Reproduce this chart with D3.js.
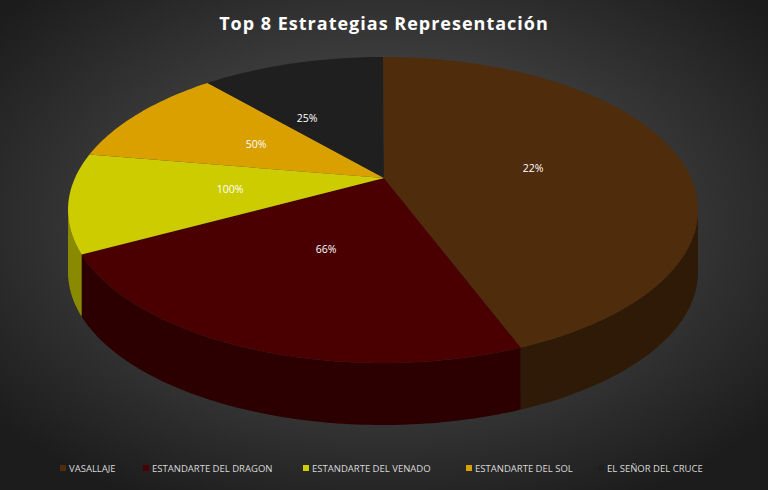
<!DOCTYPE html>
<html><head><meta charset="utf-8">
<script src="https://cdn.jsdelivr.net/npm/d3@7"></script>
<style>body{margin:0;background:#000}</style></head>
<body><svg id="c" width="768" height="490"></svg>
<script>
const categories=["VASALLAJE","ESTANDARTE DEL DRAGON","ESTANDARTE DEL VENADO","ESTANDARTE DEL SOL","EL SEÑOR DEL CRUCE"];
const values=[42.8,27.5,10.6,9.7,9.4];
const labels=["22%","66%","100%","50%","25%"];
const colors=["#4e2c0c","#4a0000","#cccc00","#d9a000","#1f1f1f"];
const sideColors=["#2e1a07","#2c0000","#8a8a00","#936c00","#121212"];

const svg=d3.select("#c");
const defs=svg.append("defs");
const g=defs.append("radialGradient").attr("id","bg").attr("cx","50%").attr("cy","45%").attr("r","65%");
g.append("stop").attr("offset","0%").attr("stop-color","#5c5c5c");
g.append("stop").attr("offset","100%").attr("stop-color","#1c1c1c");
svg.append("rect").attr("width",768).attr("height",490).attr("fill","url(#bg)");

svg.append("text").attr("x",384).attr("y",30).attr("text-anchor","middle")
 .attr("fill","#fff").attr("font-family","Open Sans, sans-serif").attr("font-weight","bold")
 .attr("font-size",18).attr("letter-spacing",1).text("Top 8 Estrategias Representación");

const cx=383,cy=210,rx=315,ry=153,depth=62,ax=384,ay=178;
const pie=d3.pie().sort(null).value(d=>d).startAngle(0).endAngle(2*Math.PI)(values);
const pt=(t,dy=0)=>[cx+rx*Math.sin(t),cy-ry*Math.cos(t)+dy];
function arcPts(a,b,dy=0){const n=Math.max(2,Math.ceil((b-a)/0.02));return d3.range(n+1).map(i=>pt(a+(b-a)*i/n,dy));}
const line=d3.line();
// sides (front half: PI/2..3PI/2)
pie.forEach((s,i)=>{
  const a=Math.max(s.startAngle,Math.PI/2),b=Math.min(s.endAngle,3*Math.PI/2);
  if(b<=a)return;
  const top=arcPts(a,b),bot=arcPts(a,b,depth).reverse();
  svg.append("path").attr("d",line(top.concat(bot))+"Z").attr("fill",sideColors[i]);
});
// top faces
pie.forEach((s,i)=>{
  const p=[[ax,ay]].concat(arcPts(s.startAngle,s.endAngle));
  svg.append("path").attr("d",line(p)+"Z").attr("fill",colors[i]);
});
// labels
const lp=[[533,168],[326,249],[230,189],[256,144],[307,118]];
pie.forEach((s,i)=>{
  const m=(s.startAngle+s.endAngle)/2;
  const x=ax+(pt(m)[0]-ax)*0.5, y=ay+(pt(m)[1]-ay)*0.5;
  svg.append("text").attr("x",lp[i][0]).attr("y",lp[i][1]+4).attr("text-anchor","middle")
   .attr("fill","#fff").attr("font-family","Open Sans, sans-serif").attr("font-size",10.5).text(labels[i]);
});
// legend
const lx=[60,143,303,466,598];
categories.forEach((c,i)=>{
  svg.append("rect").attr("x",lx[i]).attr("y",465).attr("width",6).attr("height",6).attr("fill",colors[i]);
  svg.append("text").attr("x",lx[i]+9).attr("y",472).attr("fill","#d9d9d9")
   .attr("font-family","Open Sans, sans-serif").attr("font-size",9.5).text(c);
});
</script></body></html>
